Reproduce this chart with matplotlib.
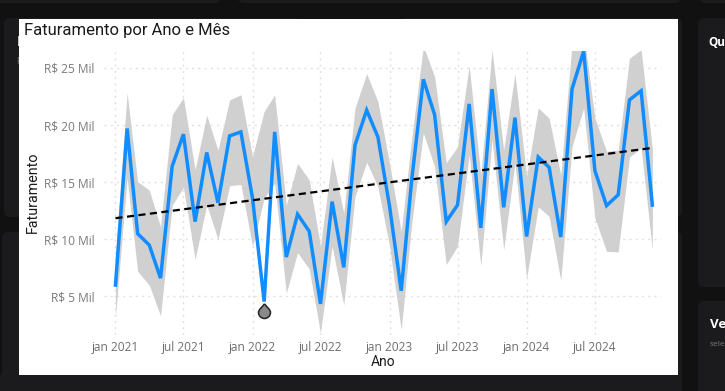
import matplotlib
matplotlib.use('Agg')
import matplotlib.pyplot as plt
import matplotlib.dates as mdates
from matplotlib.patches import Rectangle, FancyBboxPatch
from matplotlib.path import Path
from matplotlib.transforms import ScaledTranslation
import pandas as pd

# faturamento mensal, em R$ mil
faturamento = [6.0, 19.7, 10.5, 9.5, 6.6, 16.4, 19.2, 11.55, 17.6, 13.2, 19.05, 19.4,
               13.6, 4.55, 19.4, 8.45, 12.2, 10.7, 4.35, 13.3, 7.55, 18.25, 21.3, 18.95,
               12.9, 5.5, 15.2, 24.0, 20.9, 11.55, 13.0, 21.85, 11.0, 23.15, 12.8, 20.65,
               10.25, 17.2, 16.3, 10.2, 23.15, 26.45, 16.0, 12.95, 13.9, 22.2, 23.0, 13.0]
limite_sup = [8.8, 22.8, 15.05, 14.3, 11.1, 20.9, 22.4, 16.1, 20.85, 17.8, 22.2, 22.65,
              17.25, 21.2, 22.65, 13.0, 16.65, 15.2, 9.4, 17.2, 12.3, 21.5, 24.5, 22.05,
              16.65, 10.7, 18.85, 26.9, 24.25, 16.7, 18.1, 25.2, 15.65, 26.6, 17.8, 24.5,
              15.55, 21.5, 20.6, 15.65, 27.1, 28.1, 20.6, 17.7, 17.8, 25.85, 26.6, 17.9]
limite_inf = [3.25, 15.35, 7.2, 6.0, 3.3, 13.0, 14.55, 8.25, 13.0, 10.0, 14.7, 14.8,
              9.4, 13.6, 14.9, 5.3, 8.85, 7.4, 1.8, 9.4, 4.25, 13.75, 16.75, 14.6,
              9.4, 2.1, 11.4, 19.3, 16.35, 7.8, 9.4, 17.4, 7.7, 18.7, 9.1, 16.7,
              6.6, 12.85, 12.0, 6.4, 18.1, 21.5, 11.85, 8.95, 8.9, 17.2, 18.0, 9.1]
tendencia = [11.85, 18.0]
y_ticks = [5, 10, 15, 20, 25]
x_ticks = ['2021-01-01', '2021-07-01', '2022-01-01', '2022-07-01',
           '2023-01-01', '2023-07-01', '2024-01-01', '2024-07-01']
x_labels = ['jan 2021', 'jul 2021', 'jan 2022', 'jul 2022',
            'jan 2023', 'jul 2023', 'jan 2024', 'jul 2024']
anomalia = 13

meses = pd.date_range('2021-01-01', periods=len(faturamento), freq='MS')

W, H = 725, 391
fig = plt.figure(figsize=(W / 100, H / 100), dpi=100, facecolor='#111112')
plt.rcParams['font.family'] = ['Open Sans', 'DejaVu Sans']


def box(x0, y0, x1, y1, color, z=0):
    # retangulo em pixels da imagem, y para baixo
    fig.add_artist(Rectangle((x0 / W, 1 - y1 / H), (x1 - x0) / W, (y1 - y0) / H,
                             transform=fig.transFigure, color=color, lw=0, zorder=z))


def rounded(x0, y0, x1, y1, color, z=0):
    p = FancyBboxPatch((x0, H - y1), x1 - x0, y1 - y0, boxstyle='round,pad=0,rounding_size=6',
                       transform=None, facecolor=color, edgecolor='none', zorder=z)
    fig.add_artist(p)


# cartoes escuros do painel
card = '#1b1b1d'
rounded(-10, -10, 220, 3, card)
rounded(238, -10, 681, 3, card)
rounded(700, -10, 735, 3, card)
rounded(4, 18, 300, 217, card)
rounded(2, 232, 300, 400, card)
rounded(400, 18, 682, 217, card)
rounded(400, 232, 682, 400, card)
rounded(698, 18, 735, 287, card)
rounded(698, 301, 735, 400, card)
box(0, 375, 682, 391, card)
fig.text(17 / W, 1 - 42 / H, 'F', color='white', fontsize=10, fontweight='bold', va='center', zorder=1)
fig.text(16 / W, 1 - 62 / H, 'P', color='#777777', fontsize=6.5, va='center', zorder=1)
fig.text(708 / W, 1 - 42 / H, 'Qu', color='white', fontsize=8.5, fontweight='bold', va='center', zorder=1)
fig.text(710 / W, 1 - 325 / H, 'Ve', color='white', fontsize=9.5, fontweight='bold', va='center', zorder=1)
fig.text(710 / W, 1 - 345 / H, 'sele', color='#777777', fontsize=6, va='center', zorder=1)
box(19, 19, 678, 375, 'white', z=2)

ax = fig.add_axes([104 / W, 1 - 335 / H, (661 - 104) / W, (335 - 51) / H], zorder=3)
ax.set_facecolor('none')

ax.fill_between(meses, limite_inf, limite_sup, color='#d0d0d0', lw=0, zorder=2)
ax.plot(meses, faturamento, color='#118DFF', lw=2.5, solid_joinstyle='miter', zorder=3)
ax.plot([meses[0], meses[-1]], tendencia, color='black', lw=1.6, ls=(0, (3.2, 2)), zorder=4)

# marcador de anomalia (gota)
gota = Path([(0, 1.45), (-0.35, 0.95), (-1, 0.5), (-1, 0), (-1, -0.55), (-0.55, -1), (0, -1),
             (0.55, -1), (1, -0.55), (1, 0), (1, 0.5), (0.35, 0.95), (0, 1.45)],
            [Path.MOVETO, Path.CURVE4, Path.CURVE4, Path.CURVE4, Path.CURVE4, Path.CURVE4, Path.CURVE4,
             Path.CURVE4, Path.CURVE4, Path.CURVE4, Path.CURVE4, Path.CURVE4, Path.CURVE4])
desloca = ax.transData + ScaledTranslation(0, -10 / 100, fig.dpi_scale_trans)
ax.plot([meses[anomalia]], [faturamento[anomalia]], marker=gota, ms=12.5, mfc='#8a8a8a', mec='#222222',
        mew=1.1, transform=desloca, zorder=5, clip_on=False)

ax.set_ylim(1.63, 26.48)
ax.set_xlim(pd.Timestamp('2021-01-01') - pd.Timedelta(days=30.6), pd.Timestamp('2021-01-01') + pd.Timedelta(days=1453))
ax.set_yticks(y_ticks)
ax.set_yticklabels(['R$ %d Mil' % v for v in y_ticks], fontsize=8.6, color='#7a7a7a')
ax.set_xticks([mdates.date2num(pd.Timestamp(d)) for d in x_ticks])
ax.set_xticklabels(x_labels, fontsize=8.6, color='#6e6e6e')
ax.tick_params(length=0, axis='y', pad=7)
ax.tick_params(length=0, axis='x', pad=4)
ax.grid(True, color='#e0e0e0', lw=1, ls=(0, (1.5, 3)), zorder=1)
ax.set_axisbelow(True)
for s in ax.spines.values():
    s.set_visible(False)

fig.text(24 / W, 1 - 30 / H, 'Faturamento por Ano e Mês', family='Roboto', fontsize=12, color='#1a1a1a',
         va='center', zorder=4)
fig.text(33 / W, 1 - 192 / H, 'Faturamento', family='Roboto', fontsize=10.3, color='#1a1a1a', rotation=90,
         va='center', ha='center', zorder=4)
fig.text(383 / W, 1 - 362 / H, 'Ano', family='Roboto', fontsize=10, color='#1a1a1a', va='center',
         ha='center', zorder=4)

fig.savefig('out.png', dpi=100, facecolor=fig.get_facecolor())
